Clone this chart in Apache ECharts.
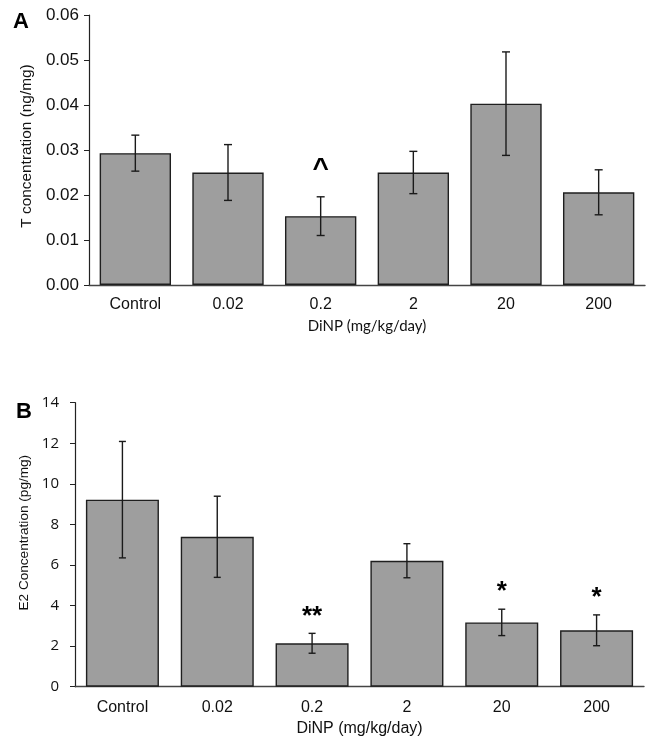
<!DOCTYPE html>
<html>
<head>
<meta charset="utf-8">
<script src="https://cdn.jsdelivr.net/npm/echarts@6/dist/echarts.min.js"></script>
<style>html,body{margin:0;padding:0;background:#fff}#c{width:646px;height:738px}</style>
</head>
<body>
<div id="c"></div>
<script>
var categories = ['Control', '0.02', '0.2', '2', '20', '200'];
var tValues = [0.0293, 0.0250, 0.0153, 0.0250, 0.0403, 0.0206];
var tErrors = [0.0040, 0.0062, 0.0043, 0.0047, 0.0115, 0.0050];
var tMarks = ['', '', '^', '', '', ''];
var e2Values = [9.22, 7.39, 2.14, 6.21, 3.17, 2.78];
var e2Errors = [2.87, 2.00, 0.49, 0.84, 0.65, 0.76];
var e2Marks = ['', '', '**', '', '*', '*'];
var tTicks = [0, 0.01, 0.02, 0.03, 0.04, 0.05, 0.06];
var e2Ticks = [0, 2, 4, 6, 8, 10, 12, 14];

var FONT = '"Liberation Sans", Arial, sans-serif';
var FONT2 = 'Lato, "Open Sans", sans-serif';

function errRender(errs, marks, cap, markSize) {
  return function (params, api) {
    var i = params.dataIndex;
    var v = api.value(1);
    var e = errs[i];
    var top = api.coord([i, v + e]);
    var bot = api.coord([i, v - e]);
    var x = top[0];
    var st = {stroke: '#1a1a1a', lineWidth: 1.4};
    var ch = [
      {type: 'line', shape: {x1: x, y1: top[1], x2: x, y2: bot[1]}, style: st},
      {type: 'line', shape: {x1: x - cap, y1: top[1], x2: x + cap, y2: top[1]}, style: st},
      {type: 'line', shape: {x1: x - cap, y1: bot[1], x2: x + cap, y2: bot[1]}, style: st}
    ];
    if (marks[i]) {
      var isCaret = marks[i] === '^';
      ch.push({type: 'text', style: {
        text: marks[i], x: x, y: top[1] - (isCaret ? 14 : 4),
        textAlign: 'center', textVerticalAlign: 'bottom',
        font: 'bold ' + (isCaret ? 28 : markSize) + 'px ' + FONT, fill: '#000'
      }});
    }
    return {type: 'group', children: ch};
  };
}

var chart = echarts.init(document.getElementById('c'), null, {renderer: 'canvas'});
var barStyle = {color: '#9e9e9e', borderColor: '#1f1f1f', borderWidth: 1.4};

chart.setOption({
  animation: false,
  backgroundColor: '#fff',
  textStyle: {fontFamily: FONT},
  grid: [
    {left: 89, right: 1, top: 15, bottom: 453, containLabel: false},
    {left: 75, right: 2, top: 402.7, bottom: 51.3, containLabel: false}
  ],
  xAxis: [
    {gridIndex: 0, type: 'category', data: categories,
     axisLine: {lineStyle: {color: '#444', width: 1.4}}, axisTick: {show: false},
     axisLabel: {color: '#111', fontSize: 16, margin: 12, fontFamily: FONT},
     name: 'DiNP (mg/kg/day)', nameLocation: 'middle', nameGap: 34,
     nameTextStyle: {color: '#111', fontSize: 15, fontFamily: FONT2}},
    {gridIndex: 1, type: 'category', data: categories,
     axisLine: {lineStyle: {color: '#444', width: 1.4}}, axisTick: {show: false},
     axisLabel: {color: '#111', fontSize: 16, margin: 13, fontFamily: FONT},
     name: 'DiNP (mg/kg/day)', nameLocation: 'middle', nameGap: 34,
     nameTextStyle: {color: '#111', fontSize: 16, fontFamily: FONT}}
  ],
  yAxis: [
    {gridIndex: 0, type: 'value', min: tTicks[0], max: tTicks[tTicks.length - 1], interval: 0.01,
     splitLine: {show: false},
     axisLine: {show: true, lineStyle: {color: '#222', width: 1.2}},
     axisTick: {show: true, length: 5, lineStyle: {color: '#222'}},
     axisLabel: {color: '#111', fontSize: 17, margin: 10, fontFamily: FONT,
       formatter: function (v) { return v.toFixed(2); }},
     name: 'T concentration (ng/mg)', nameLocation: 'middle', nameGap: 55, nameRotate: 90,
     nameTextStyle: {color: '#111', fontSize: 15.4, fontFamily: FONT, padding: [0, 0, 0, 8]}},
    {gridIndex: 1, type: 'value', min: e2Ticks[0], max: e2Ticks[e2Ticks.length - 1], interval: 2,
     splitLine: {show: false},
     axisLine: {show: true, lineStyle: {color: '#222', width: 1.2}},
     axisTick: {show: true, length: 5, lineStyle: {color: '#222'}},
     axisLabel: {color: '#111', fontSize: 15, margin: 16, fontFamily: '"Open Sans", sans-serif'},
     name: 'E2 Concentration (pg/mg)', nameLocation: 'middle', nameGap: 39, nameRotate: 90,
     nameTextStyle: {color: '#111', fontSize: 13.6, fontFamily: FONT, padding: [0, 0, 0, 24]}}
  ],
  graphic: [
    {type: 'text', left: 13, top: 11, style: {text: 'A', font: 'bold 22px ' + FONT, fill: '#000'}},
    {type: 'text', left: 16, top: 401, style: {text: 'B', font: 'bold 22px ' + FONT, fill: '#000'}}
  ],
  series: [
    {type: 'bar', xAxisIndex: 0, yAxisIndex: 0, data: tValues, barCategoryGap: '23%', itemStyle: barStyle},
    {type: 'custom', xAxisIndex: 0, yAxisIndex: 0, z: 5,
     data: tValues.map(function (v, i) { return [i, v]; }),
     renderItem: errRender(tErrors, tMarks, 4, 26)},
    {type: 'bar', xAxisIndex: 1, yAxisIndex: 1, data: e2Values, barCategoryGap: '23%', itemStyle: barStyle},
    {type: 'custom', xAxisIndex: 1, yAxisIndex: 1, z: 5,
     data: e2Values.map(function (v, i) { return [i, v]; }),
     renderItem: errRender(e2Errors, e2Marks, 3.5, 26)}
  ]
});
</script>
</body>
</html>
